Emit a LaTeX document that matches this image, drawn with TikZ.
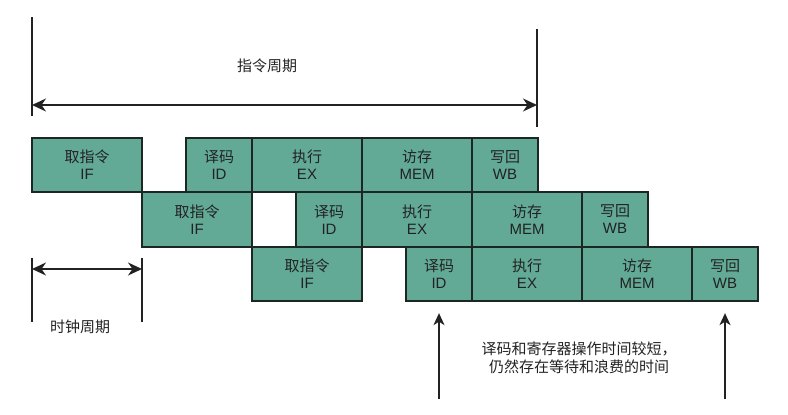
\documentclass[tikz,border=0pt]{standalone}
\usepackage{fontspec}
\setmainfont{Liberation Sans}
\newfontfamily\cjk{Noto Sans CJK SC}
\usetikzlibrary{arrows.meta}
\definecolor{stagefill}{RGB}{98,170,150}
\definecolor{stageline}{RGB}{28,38,34}
\definecolor{txt}{RGB}{34,34,34}
\begin{document}
\begin{tikzpicture}[x=1pt,y=-1pt,
  stage/.style={draw=stageline, fill=stagefill, line width=1.8pt, inner sep=0pt,
    minimum height=54.5pt, align=center, text=txt,
    font=\fontsize{15}{17}\selectfont},
  wide/.style={stage, minimum width=110pt},
  narrow/.style={stage, minimum width=66pt},
  dim/.style={line width=1.6pt, draw=txt},
  dimarrow/.style={dim, {Stealth[length=14pt,width=13pt,inset=4.5pt]}-{Stealth[length=14pt,width=13pt,inset=4.5pt]}},
  uparrow/.style={dim, -{Stealth[length=12pt,width=11pt,inset=3.5pt]}},
  lbl/.style={text=txt, align=center, font=\fontsize{15}{18}\selectfont\cjk},
]
\useasboundingbox (0,0) rectangle (788,415);

% instruction cycle dimension
\coordinate (L1t) at (32,17);
\coordinate (L1b) at (32,116);
\coordinate (R1t) at (537,29);
\coordinate (R1b) at (537,127);
\coordinate (A1l) at (32,105);
\coordinate (A1r) at (537,105);
\draw[dim] (L1t) -- (L1b);
\draw[dim] (R1t) -- (R1b);
\draw[dimarrow] (A1l) -- (A1r);
\node[lbl] (cyc) at (267,66) {指令周期};

% row 1
\node[wide]   (r1if)  at (87,165)  {{\cjk 取指令}\\IF};
\node[narrow] (r1id)  at (219,165) {{\cjk 译码}\\ID};
\node[wide]   (r1ex)  at (307,165) {{\cjk 执行}\\EX};
\node[wide]   (r1mem) at (417,165) {{\cjk 访存}\\MEM};
\node[narrow] (r1wb)  at (505,165) {{\cjk 写回}\\WB};
% row 2
\node[wide]   (r2if)  at (197,219.5) {{\cjk 取指令}\\IF};
\node[narrow] (r2id)  at (329,219.5) {{\cjk 译码}\\ID};
\node[wide]   (r2ex)  at (417,219.5) {{\cjk 执行}\\EX};
\node[wide]   (r2mem) at (527,219.5) {{\cjk 访存}\\MEM};
\node[narrow] (r2wb)  at (615,219.5) {{\cjk 写回}\\WB};
% row 3
\node[wide]   (r3if)  at (307,274) {{\cjk 取指令}\\IF};
\node[narrow] (r3id)  at (439,274) {{\cjk 译码}\\ID};
\node[wide]   (r3ex)  at (527,274) {{\cjk 执行}\\EX};
\node[wide]   (r3mem) at (637,274) {{\cjk 访存}\\MEM};
\node[narrow] (r3wb)  at (725,274) {{\cjk 写回}\\WB};

% clock cycle dimension
\coordinate (L2t) at (32,258);
\coordinate (L2b) at (32,322);
\coordinate (R2t) at (142,258);
\coordinate (R2b) at (142,322);
\coordinate (A2l) at (32,269);
\coordinate (A2r) at (142,269);
\draw[dim] (L2t) -- (L2b);
\draw[dim] (R2t) -- (R2b);
\draw[dimarrow] (A2l) -- (A2r);
\node[lbl] (clk) at (80,327) {时钟周期};

% up arrows
\coordinate (U1) at (439,399);
\coordinate (U2) at (725,399);
\draw[uparrow, shorten >=11pt] (U1) -- (r3id.south);
\draw[uparrow, shorten >=11pt] (U2) -- (r3wb.south);

\node[lbl] (note) at (579,358) {译码和寄存器操作时间较短，\\仍然存在等待和浪费的时间};
\end{tikzpicture}
\end{document}
